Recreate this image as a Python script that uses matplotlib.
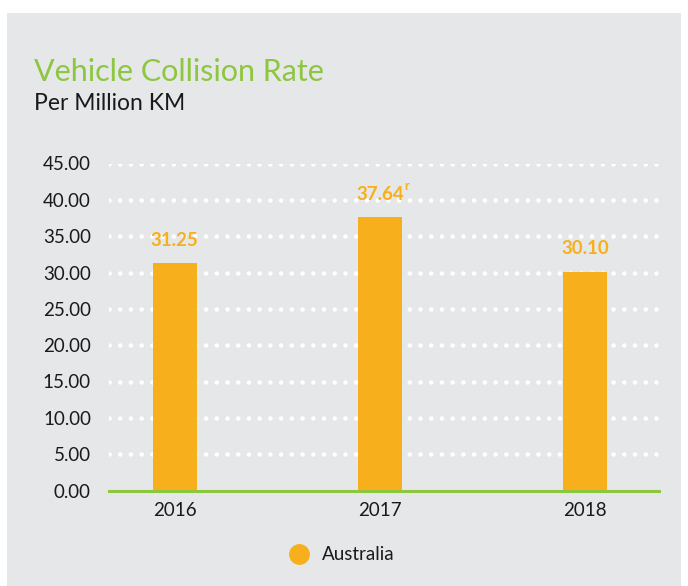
import matplotlib
matplotlib.use("Agg")
import matplotlib.pyplot as plt
from matplotlib.patches import Rectangle

years = ["2016", "2017", "2018"]
values = [31.25, 37.64, 30.10]
labels = ["31.25", "37.64", "30.10"]
revised = [False, True, False]
yticks = [0, 5, 10, 15, 20, 25, 30, 35, 40, 45]
series_name = "Australia"

ORANGE = "#f7b01b"
GREEN = "#8dc63f"
GRAY = "#e6e7e8"
TXT = "#1a1a1a"
FONT = "Lato"

W, H = 688, 586
fig = plt.figure(figsize=(W / 100, H / 100), dpi=100, facecolor="white")
fig.patches.append(Rectangle((7 / W, 0), (681 - 7) / W, (H - 13) / H,
                             transform=fig.transFigure, facecolor=GRAY,
                             edgecolor="none", zorder=-10))

ax = fig.add_axes([109 / W, 1 - 490.5 / H, (659 - 109) / W, (490.5 - 163.5) / H])
ax.set_facecolor("none")
x = list(range(len(years)))
ax.bar(x, values, width=0.215, color=ORANGE, zorder=3)
ax.set_xlim(-0.32, 2.36)
ax.set_ylim(0, 45)
ax.set_yticks(yticks)
ax.set_yticklabels([f"{v:.2f}" for v in yticks], fontsize=13.5, family=FONT, color=TXT)
ax.set_xticks(x)
ax.set_xticklabels(years, fontsize=13.5, family=FONT, color=TXT)
ax.tick_params(axis="both", length=0)
ax.tick_params(axis="y", pad=13)
ax.tick_params(axis="x", pad=8)
for s in ["top", "right", "left"]:
    ax.spines[s].set_visible(False)
ax.spines["bottom"].set_color(GREEN)
ax.spines["bottom"].set_linewidth(2.2)
ax.spines["bottom"].set_zorder(4)
for t in yticks[1:]:
    ax.axhline(t, color="white", linewidth=3.3, linestyle=(0, (0.01, 2.33)),
               dash_capstyle="round", zorder=1)

for xi, v, lab, r in zip(x, values, labels, revised):
    ax.annotate(lab, (xi, v), xytext=(0, 16.5), textcoords="offset points",
                ha="center", va="center", fontsize=13.5, fontweight="bold",
                color=ORANGE, family=FONT)
    if r:
        ax.annotate("r", (xi, v), xytext=(17.5, 22.5), textcoords="offset points",
                    ha="left", va="center", fontsize=9, fontweight="bold",
                    color=ORANGE, family=FONT)

fig.text(34 / W, 1 - 81 / H, "Vehicle Collision Rate", fontsize=22, color=GREEN,
         family=FONT, va="baseline")
fig.text(34 / W, 1 - 110 / H, "Per Million KM", fontsize=16.5, color=TXT,
         family=FONT, va="baseline")

fig.lines.append(plt.Line2D([299 / W], [1 - 554 / H], marker="o", markersize=14,
                            color=ORANGE, transform=fig.transFigure, linestyle="none"))
fig.text(322 / W, 1 - 554 / H, series_name, fontsize=13.5, color=TXT,
         family=FONT, va="center")

fig.savefig("out.png", dpi=100, facecolor="white")
